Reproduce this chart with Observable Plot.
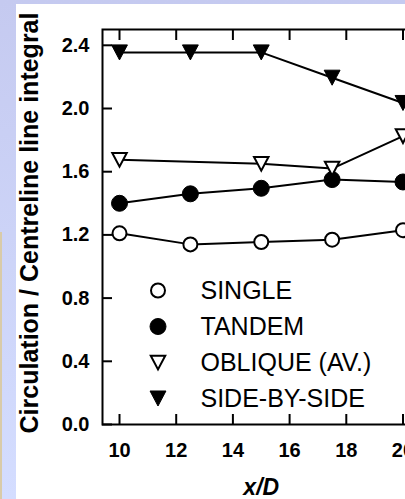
<!DOCTYPE html>
<html><head><meta charset="utf-8">
<script src="https://cdn.jsdelivr.net/npm/d3@7"></script>
<script src="https://cdn.jsdelivr.net/npm/@observablehq/plot@0.6"></script>
<style>
html,body{margin:0;padding:0;width:405px;height:499px;overflow:hidden;}
body{background:linear-gradient(#c5caf0,#d4ddff);position:relative;font-family:"Liberation Sans",Arial,sans-serif;}
#panel{position:absolute;left:16px;top:4px;right:0;bottom:0;background:#fff;}
#edge{position:absolute;left:0;top:232px;width:2px;bottom:0;background:#d9cba9;}
#chart{position:absolute;left:0;top:0;}
</style></head><body>
<div id="panel"></div><div id="edge"></div><div id="chart"></div>
<script>
const xPositions = [10, 12.5, 15, 17.5, 20];
const singleValues = [1.21, 1.14, 1.155, 1.17, 1.23];
const tandemValues = [1.40, 1.46, 1.495, 1.55, 1.535];
const obliqueX = [10, 15, 17.5, 20];
const obliqueValues = [1.675, 1.65, 1.62, 1.825];
const sideValues = [2.355, 2.355, 2.355, 2.195, 2.035];
const seriesNames = ["SINGLE", "TANDEM", "OBLIQUE (AV.)", "SIDE-BY-SIDE"];
const xTicks = [10, 12, 14, 16, 18, 20];
const yTicks = [0, 0.4, 0.8, 1.2, 1.6, 2.0, 2.4];
const yLabel = "Circulation / Centreline line integral";
const xLabel = "x/D";

const downTri = {draw(ctx, size) {
  const s = Math.sqrt(size);
  const w = s * 0.56, h = s * 0.53;
  ctx.moveTo(-w, -h); ctx.lineTo(w, -h); ctx.lineTo(0, h); ctx.closePath();
}};

const seriesXs = [xPositions, xPositions, obliqueX, xPositions];
const seriesYs = [singleValues, tandemValues, obliqueValues, sideValues];
const styles = [
  {symbol: "circle", fill: "white", r: 7, strokeWidth: 2},
  {symbol: "circle", fill: "black", r: 8, strokeWidth: 1},
  {symbol: downTri, fill: "white", r: 7.3, strokeWidth: 2},
  {symbol: downTri, fill: "black", r: 8, strokeWidth: 1}
];

const marks = [];
seriesNames.forEach((name, i) => {
  const data = seriesXs[i].map((x, j) => ({x, y: seriesYs[i][j]}));
  marks.push(Plot.line(data, {x: "x", y: "y", stroke: "black", strokeWidth: 2}));
});
seriesNames.forEach((name, i) => {
  const data = seriesXs[i].map((x, j) => ({x, y: seriesYs[i][j]}));
  const st = styles[i];
  marks.push(Plot.dot(data, {x: "x", y: "y", symbol: st.symbol, r: st.r, fill: st.fill, stroke: "black", strokeWidth: st.strokeWidth}));
});
seriesNames.forEach((name, i) => {
  const st = styles[i];
  marks.push(Plot.dot([name], {frameAnchor: "top-left", dx: 55.5, dy: 261 + i * 36, symbol: st.symbol, r: st.r, fill: st.fill, stroke: "black", strokeWidth: st.strokeWidth}));
  marks.push(Plot.text([name], {frameAnchor: "top-left", dx: 98, dy: 261 + i * 36, text: d => d, textAnchor: "start", lineAnchor: "middle", fontSize: 25, fill: "black"}));
});

const chart = Plot.plot({
  width: 440, height: 499,
  marginLeft: 102, marginRight: 20.5, marginTop: 29, marginBottom: 75,
  style: {fontFamily: "'Liberation Sans', Arial, sans-serif", background: "transparent", maxWidth: "none", overflow: "visible", color: "black"},
  x: {domain: [9.4, 20.6], label: null},
  y: {domain: [0, 2.5], label: null},
  marks: [
    ...marks,
    Plot.axisY(yTicks, {anchor: "left", tickSize: -10, tickPadding: 23, tickFormat: d3.format(".1f"), fontSize: 20, fontWeight: "bold", strokeWidth: 2, label: null}),
    Plot.axisX(xTicks, {anchor: "bottom", tickSize: -10, tickPadding: 28, tickFormat: d => String(d), fontSize: 20, fontWeight: "bold", strokeWidth: 2, label: null}),
    Plot.axisX(xTicks, {anchor: "top", tickSize: -10, tickFormat: () => "", strokeWidth: 2, label: null}),
    Plot.frame({stroke: "black", strokeWidth: 2}),
    Plot.text([yLabel], {frameAnchor: "left", rotate: -90, dx: -64.5, dy: -4, textAnchor: "middle", lineAnchor: "bottom", fontSize: 25, fontWeight: "bold", text: d => d, fill: "black"}),
    Plot.text([xLabel], {frameAnchor: "bottom", dy: 70, textAnchor: "middle", lineAnchor: "bottom", fontSize: 23, fontWeight: "bold", fontStyle: "italic", text: d => d, fill: "black"})
  ]
});
document.getElementById("chart").appendChild(chart);
</script>
</body></html>
